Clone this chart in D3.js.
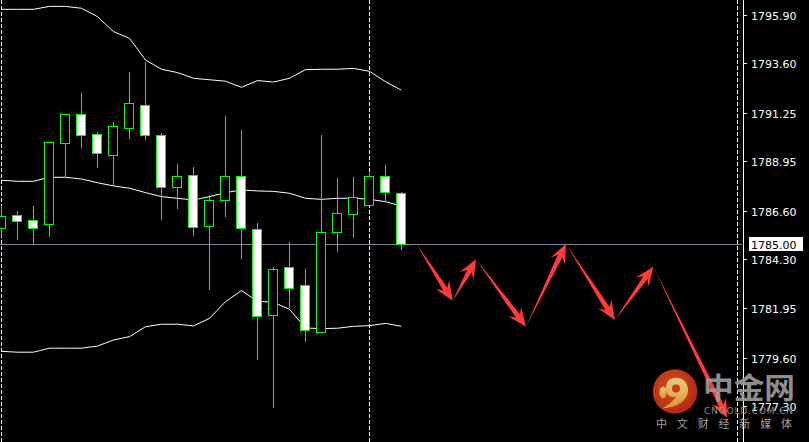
<!DOCTYPE html>
<html><head><meta charset="utf-8">
<script src="https://cdn.jsdelivr.net/npm/d3@7"></script>
<style>html,body{margin:0;padding:0;background:#000;overflow:hidden}svg{display:block}</style>
</head><body>
<svg id="chart" width="809" height="442"></svg>
<script>
// ---- data ----
const barIndex = d3.range(26);
const opens  = [1785.78,1786.39,1786.13,1785.97,1789.83,1791.18,1790.23,1789.25,1790.54,1791.60,1790.18,1787.73,1788.27,1785.88,1787.11,1788.23,1785.71,1781.64,1783.90,1783.04,1780.81,1785.59,1786.42,1786.85,1788.23,1787.42];
const highs  = [1786.85,1786.62,1786.86,1789.86,1791.24,1792.24,1790.38,1790.86,1793.24,1793.71,1790.33,1788.86,1788.72,1787.37,1791.14,1790.48,1786.05,1783.96,1785.15,1783.87,1790.24,1788.19,1788.24,1788.43,1788.81,1787.53];
const lows   = [1785.39,1785.24,1785.07,1785.40,1788.21,1789.64,1788.68,1787.81,1790.06,1790.00,1786.20,1786.73,1785.43,1782.88,1786.35,1784.36,1779.55,1777.27,1782.02,1780.41,1780.81,1784.67,1785.35,1786.85,1787.07,1784.78];
const closes = [1786.34,1786.12,1785.78,1789.84,1791.18,1790.21,1789.35,1790.61,1791.70,1790.21,1787.73,1788.23,1785.83,1787.10,1788.23,1785.75,1781.60,1783.80,1782.93,1780.90,1785.56,1786.47,1787.23,1788.23,1787.47,1785.00];
const bandUpper  = [1796.17,1796.17,1796.17,1796.31,1796.31,1796.22,1795.82,1795.11,1794.79,1793.76,1793.32,1793.16,1792.89,1792.82,1792.75,1792.46,1792.78,1792.71,1792.89,1793.30,1793.32,1793.32,1793.36,1793.22,1792.73,1792.32];
const bandMiddle = [1788.04,1787.99,1787.99,1788.18,1788.18,1788.10,1787.92,1787.77,1787.66,1787.45,1787.26,1787.18,1787.10,1787.26,1787.45,1787.58,1787.53,1787.51,1787.42,1787.18,1787.13,1787.18,1787.19,1787.13,1787.02,1786.81];
const bandLower  = [1779.90,1779.86,1779.86,1780.05,1780.05,1780.05,1780.15,1780.44,1780.60,1781.07,1781.19,1781.19,1781.11,1781.47,1782.26,1782.79,1782.28,1782.23,1781.90,1781.01,1780.98,1781.00,1781.09,1781.12,1781.23,1781.09];
const tickValues = [1795.90,1793.60,1791.25,1788.95,1786.60,1784.30,1781.95,1779.60,1777.30];
const tickLabels = ["1795.90","1793.60","1791.25","1788.95","1786.60","1784.30","1781.95","1779.60","1777.30"];
const lastPrice = 1785.00;
const lastPriceLabel = "1785.00";
const separators = [0, 23, 46];
// forecast path drawn as arrows (bar index, price)
const pathIndex = [25.97, 28.2, 29.66, 32.78, 35.28, 38.34, 40.74, 45.36];
const pathPrice = [1784.96, 1782.31, 1784.28, 1781.07, 1785.01, 1781.39, 1783.93, 1776.73];
const wmTitle = "中金网";
const wmDomain = "CNGOLD.COM.CN";
const wmSub = "中文财经新媒体";

// ---- scales ----
const W = 809, H = 442;
const x = d3.scaleLinear().domain([0, 46]).range([1.5, 737.5]);
const y = d3.scaleLinear().domain([1777.30, 1795.90]).range([406, 15]);
const px = v => Math.round(y(v)) + 0.5;

const svg = d3.select("#chart");
svg.append("rect").attr("width", W).attr("height", H).attr("fill", "#000");

// separators
svg.append("g").selectAll("line").data(separators).join("line")
  .attr("x1", d => x(d)).attr("x2", d => x(d)).attr("y1", 0).attr("y2", H)
  .attr("stroke", "#fff").attr("stroke-width", 1).attr("stroke-dasharray", "4,2")
  .attr("shape-rendering", "crispEdges");

// last price line
svg.append("line").attr("x1", 0).attr("x2", 742).attr("y1", px(lastPrice)).attr("y2", px(lastPrice))
  .attr("stroke", "#778899").attr("shape-rendering", "crispEdges");

// bands
const line = arr => d3.line().x((d, i) => x(i)).y(d => y(d))(arr);
[bandUpper, bandMiddle, bandLower].forEach(b => {
  svg.append("path").attr("d", line(b)).attr("fill", "none")
    .attr("stroke", "#fff").attr("stroke-width", 1);
});

// candles
const cg = svg.append("g").attr("shape-rendering", "crispEdges");
barIndex.forEach(i => {
  const cx = x(i);
  const o = opens[i], c = closes[i];
  cg.append("line").attr("x1", cx).attr("x2", cx)
    .attr("y1", px(highs[i])).attr("y2", px(lows[i]))
    .attr("stroke", "#00ff00");
  const top = px(Math.max(o, c)), bot = px(Math.min(o, c));
  cg.append("rect").attr("x", cx - 5).attr("width", 9)
    .attr("y", top).attr("height", Math.max(1, bot - top))
    .attr("fill", c < o ? "#fff" : "#000").attr("stroke", "#00ff00");
});

// arrows
function arrowPoly(sx, sy, tx, ty) {
  const dx = tx - sx, dy = ty - sy, L = Math.hypot(dx, dy);
  const ux = dx / L, uy = dy / L, nx = -uy, ny = ux;
  const h = 19, hw = 8, sw = 2.6;
  const bx = tx - ux * h, by = ty - uy * h;
  const jx = tx - ux * h * 0.72, jy = ty - uy * h * 0.72;
  return [[sx, sy], [jx + nx * sw, jy + ny * sw], [bx + nx * hw, by + ny * hw], [tx, ty],
          [bx - nx * hw, by - ny * hw], [jx - nx * sw, jy - ny * sw]];
}
const ag = svg.append("g");
for (let k = 0; k < pathIndex.length - 1; k++) {
  const pts = arrowPoly(x(pathIndex[k]), y(pathPrice[k]), x(pathIndex[k + 1]), y(pathPrice[k + 1]));
  ag.append("polygon").attr("points", pts.map(p => p.join(",")).join(" ")).attr("fill", "#ff3a3a");
}

// axis
svg.append("line").attr("x1", 743.5).attr("x2", 743.5).attr("y1", 0).attr("y2", H)
  .attr("stroke", "#fff").attr("shape-rendering", "crispEdges");
const ax = svg.append("g");
tickValues.forEach((v, i) => {
  const ty = px(v);
  ax.append("line").attr("x1", 744).attr("x2", 747).attr("y1", ty).attr("y2", ty)
    .attr("stroke", "#fff").attr("shape-rendering", "crispEdges");
  ax.append("text").attr("x", 751).attr("y", ty + 4).text(tickLabels[i])
    .attr("fill", "#fff").attr("font-family", "DejaVu Sans, Tahoma, sans-serif").attr("font-size", 11);
});
const ly = px(lastPrice);
ax.append("rect").attr("x", 749).attr("y", ly - 7.5).attr("width", 54).attr("height", 14).attr("fill", "#fff");
ax.append("text").attr("x", 751).attr("y", ly + 4).text(lastPriceLabel)
  .attr("fill", "#000").attr("font-family", "DejaVu Sans, Tahoma, sans-serif").attr("font-size", 11);

// watermark
const defs = svg.append("defs");
const rg = defs.append("radialGradient").attr("id", "lg").attr("cx", "45%").attr("cy", "40%").attr("r", "60%");
rg.append("stop").attr("offset", "0%").attr("stop-color", "#e85a22");
rg.append("stop").attr("offset", "100%").attr("stop-color", "#c42a18");
const yg = defs.append("linearGradient").attr("id", "yg").attr("x1", "0").attr("y1", "0").attr("x2", "0").attr("y2", "1");
yg.append("stop").attr("offset", "0%").attr("stop-color", "#fde08a");
yg.append("stop").attr("offset", "100%").attr("stop-color", "#f2a032");
const wm = svg.append("g").attr("opacity", 0.92);
const logo = wm.append("g").attr("transform", "translate(675,391.5)");
logo.append("circle").attr("r", 22.3).attr("fill", "url(#lg)");
logo.append("path").attr("fill", "url(#yg)")
  .attr("d", "M-3,-13 C6,-16 14,-9 13,0 C12,9 3,16 -13,17 C-6,13 -1,9 1,5 C-5,7 -10,2 -9,-5 C-8,-10 -6,-12 -3,-13 Z");
logo.append("circle").attr("cx", 1).attr("cy", -3).attr("r", 4).attr("fill", "#d8421c");
logo.append("ellipse").attr("cx", -12).attr("cy", 1).attr("rx", 3.5).attr("ry", 6).attr("fill", "url(#yg)");
wm.append("text").attr("x", 703).attr("y", 399).text(wmTitle)
  .attr("fill", "#9a9a9a").attr("font-family", "Noto Sans CJK SC").attr("font-weight", 700)
  .attr("font-size", 29).attr("textLength", 92).attr("lengthAdjust", "spacingAndGlyphs");
wm.append("text").attr("x", 704).attr("y", 413.5).text(wmDomain)
  .attr("fill", "#9a9a9a").attr("font-family", "DejaVu Sans, sans-serif")
  .attr("font-size", 9).attr("textLength", 89).attr("lengthAdjust", "spacing");
wm.append("text").attr("x", 656).attr("y", 428).text(wmSub)
  .attr("fill", "#b0b0b0").attr("font-family", "Noto Sans CJK SC")
  .attr("font-size", 11).attr("textLength", 136).attr("lengthAdjust", "spacing");
</script>
</body></html>
